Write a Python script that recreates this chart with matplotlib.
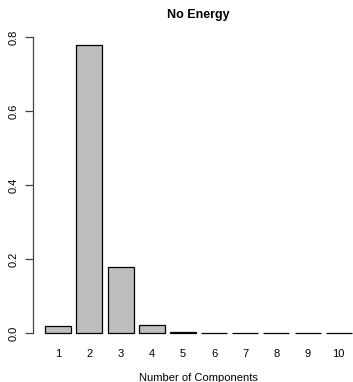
import matplotlib
matplotlib.use('Agg')
import matplotlib.pyplot as plt
import numpy as np

plt.rcParams['font.family'] = ['Liberation Sans', 'DejaVu Sans']

# proporcio de variancia per component
components = ['1', '2', '3', '4', '5', '6', '7', '8', '9', '10']
proportion = [0.019, 0.778, 0.178, 0.022, 0.003, 0.0006, 0.0005, 0.0004, 0.0004, 0.0003]

fig = plt.figure(figsize=(3.53, 3.82), dpi=100)
# eixos com un barplot de R (la part dreta queda tallada)
ax = fig.add_axes([33 / 353, 37.5 / 382, 331 / 353, 311 / 382])

pos = 0.7 + 1.2 * np.arange(len(components))
ax.bar(pos, proportion, width=1.0, color='#bebebe', edgecolor='black', linewidth=0.9)

ax.set_xlim(-0.272, 12.472)
ax.set_ylim(-0.0311, 0.8091)

for s in ['top', 'right', 'bottom']:
    ax.spines[s].set_visible(False)
ax.spines['left'].set_bounds(0, 0.8)
ax.spines['left'].set_color('#444444')
ax.spines['left'].set_linewidth(0.9)

ax.set_yticks([0.0, 0.2, 0.4, 0.6, 0.8])
ax.set_yticklabels(['0.0', '0.2', '0.4', '0.6', '0.8'], rotation=90, va='center', fontsize=8)
ax.tick_params(axis='y', length=6, width=0.9, color='#444444', pad=4)

ax.set_xticks(pos)
ax.set_xticklabels(components, fontsize=8)
ax.tick_params(axis='x', length=0, pad=3)

ax.set_xlabel('Number of Components', fontsize=8, labelpad=10)
ax.set_title('No Energy', fontsize=9, fontweight='bold', pad=11)

plt.savefig('out.png', dpi=100)
plt.close('all')
